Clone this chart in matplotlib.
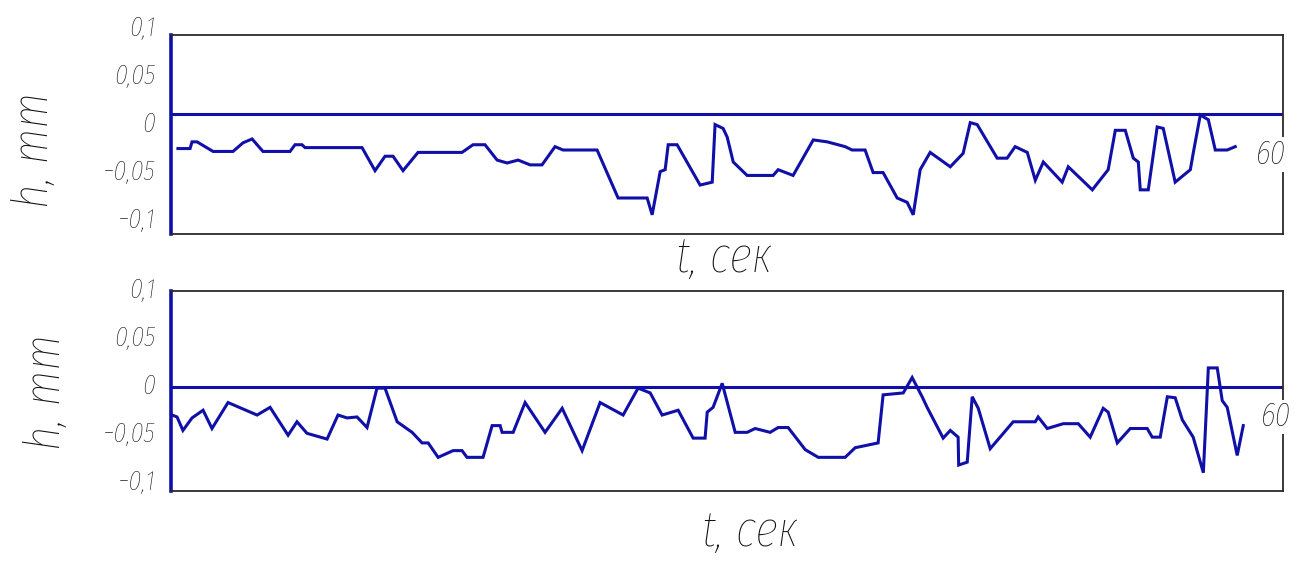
import matplotlib
matplotlib.use("Agg")
import matplotlib.pyplot as plt
import matplotlib.transforms as mtransforms

# ---------------- data (t in s, h in mm) ----------------
t_top = [0.39, 1.07, 1.18, 1.46, 2.36, 3.48, 4.04, 4.55, 5.16, 6.68, 6.96, 7.35, 7.52, 10.72,
         11.45, 12.01, 12.46, 13.02, 13.86, 16.33, 16.95, 17.62, 18.30, 18.86, 19.48, 20.15,
         20.82, 21.55, 22.00, 23.91, 25.09, 26.72, 27.00, 27.45, 27.73, 27.90, 28.40, 29.69,
         30.37, 30.53, 30.98, 31.21, 31.55, 32.33, 33.79, 34.07, 34.35, 34.91, 36.04, 36.82,
         37.83, 38.22, 38.95, 39.40, 39.96, 40.75, 41.31, 41.65, 42.04, 42.60, 43.73, 44.45,
         44.85, 45.24, 46.36, 46.92, 47.37, 48.05, 48.50, 48.95, 50.01, 50.35, 51.70, 52.59,
         52.99, 53.55, 54.00, 54.28, 54.39, 54.84, 55.34, 55.68, 56.35, 57.20, 57.36, 57.76,
         58.21, 58.60, 59.27, 59.72]
h_top = [-0.036, -0.036, -0.029, -0.029, -0.039, -0.039, -0.030, -0.026, -0.039, -0.039, -0.032,
         -0.032, -0.035, -0.035, -0.059, -0.044, -0.044, -0.059, -0.040, -0.040, -0.032, -0.032,
         -0.048, -0.051, -0.048, -0.053, -0.053, -0.034, -0.0375, -0.0375, -0.0875, -0.0875,
         -0.105, -0.060, -0.058, -0.032, -0.032, -0.074, -0.071, -0.011, -0.015, -0.024, -0.050,
         -0.064, -0.064, -0.058, -0.060, -0.064, -0.027, -0.029, -0.034, -0.0375, -0.0375,
         -0.061, -0.061, -0.0875, -0.092, -0.105, -0.058, -0.040, -0.055, -0.041, -0.009,
         -0.011, -0.046, -0.046, -0.034, -0.040, -0.069, -0.050, -0.071, -0.055, -0.079,
         -0.058, -0.017, -0.017, -0.046, -0.050, -0.079, -0.079, -0.0135, -0.015, -0.071,
         -0.058, -0.041, -0.001, -0.006, -0.0375, -0.0375, -0.034]

t_bot = [0.06, 0.34, 0.67, 1.18, 1.80, 2.30, 3.20, 4.83, 5.56, 6.57, 7.07, 7.63, 8.76, 9.37,
         9.88, 10.44, 11.00, 11.56, 12.01, 12.69, 13.53, 14.09, 14.43, 14.99, 15.83, 16.33,
         16.61, 17.51, 18.02, 18.47, 18.58, 19.20, 19.87, 20.99, 21.95, 23.07, 24.08, 25.37,
         26.21, 26.89, 27.56, 28.46, 29.30, 29.97, 30.09, 30.42, 30.93, 31.66, 32.33, 32.78,
         33.62, 34.07, 34.63, 35.59, 36.32, 37.83, 38.39, 39.68, 39.96, 41.09, 41.59, 42.15,
         42.43, 43.33, 43.73, 44.17, 44.20, 44.68, 44.96, 45.30, 45.97, 47.26, 48.50, 48.66,
         49.17, 50.07, 50.91, 51.58, 52.31, 52.59, 53.10, 53.83, 54.78, 55.06, 55.51, 55.91,
         56.35, 56.75, 57.36, 57.93, 58.21, 58.71, 58.99, 59.27, 59.83, 60.17]
h_bot = [-0.029, -0.031, -0.045, -0.032, -0.024, -0.043, -0.016, -0.029, -0.021, -0.050, -0.036,
         -0.048, -0.054, -0.029, -0.032, -0.031, -0.042, -0.001, -0.001, -0.036, -0.047, -0.058,
         -0.058, -0.073, -0.066, -0.066, -0.073, -0.073, -0.040, -0.040, -0.047, -0.047, -0.016,
         -0.047, -0.022, -0.066, -0.016, -0.029, -0.001, -0.006, -0.029, -0.024, -0.053, -0.053,
         -0.026, -0.021, 0.004, -0.047, -0.047, -0.043, -0.047, -0.042, -0.042, -0.065, -0.073,
         -0.073, -0.063, -0.058, -0.008, -0.006, 0.010, -0.010, -0.021, -0.053, -0.045, -0.052,
         -0.081, -0.078, -0.010, -0.022, -0.064, -0.036, -0.036, -0.031, -0.043, -0.038, -0.038,
         -0.052, -0.022, -0.026, -0.058, -0.043, -0.043, -0.052, -0.052, -0.010, -0.011, -0.034,
         -0.052, -0.089, 0.020, 0.020, -0.014, -0.021, -0.071, -0.040]

ytick_values = [0.1, 0.05, 0, -0.05, -0.1]
ytick_labels = ["0,1", "0,05", "0", "\u22120,05", "\u22120,1"]
x_end_label = "60"
xlabel_text = "t, сек"
ylabel_text = "h, mm"

# ---------------- style ----------------
FONT = ["Fira Sans Extra Condensed", "Fira Sans Condensed", "Roboto Condensed",
        "Liberation Sans Narrow", "DejaVu Sans"]
plt.rcParams["font.family"] = FONT
BLUE = "#1010a8"
DARK = "#2a2a2a"
TXT = "#111111"

W, H = 1308, 561
fig = plt.figure(figsize=(W / 100, H / 100), dpi=100)
fig.patch.set_facecolor("white")


def px_axes(l, t, r, b):
    return fig.add_axes([l / W, 1 - b / H, (r - l) / W, (b - t) / H])


panels = [
    dict(box=(171, 35, 1283, 234), ylim=(-0.125, 0.0823), toff=-0.0103,
         t=t_top, h=h_top, end=(61.7, -0.042), xl=(725, 258), yl=(34, 150)),
    dict(box=(171, 291, 1283, 491), ylim=(-0.108, 0.100), toff=0.0008,
         t=t_bot, h=h_bot, end=(62.0, -0.031), xl=(750, 532), yl=(46, 392)),
]

for p in panels:
    ax = px_axes(*p["box"])
    ax.set_xlim(0, 62.4)
    ax.set_ylim(*p["ylim"])
    ax.set_xticks([])
    ax.set_yticks([])
    for side in ("top", "bottom", "right"):
        ax.spines[side].set_color(DARK)
        ax.spines[side].set_linewidth(1.3)
    ax.spines["left"].set_color(BLUE)
    ax.spines["left"].set_linewidth(2.6)

    ax.axhline(0, color=BLUE, lw=2.2, zorder=2)
    ax.plot(p["t"], p["h"], color=BLUE, lw=2.2, solid_joinstyle="miter", zorder=3)

    trans = mtransforms.blended_transform_factory(ax.transAxes, ax.transData)
    for v, lab in zip(ytick_values, ytick_labels):
        ax.text(-0.014, v + p["toff"], lab, transform=trans, ha="right", va="center",
                fontsize=20, style="italic", fontweight="light", color=TXT,
                clip_on=False)

    ax.text(p["end"][0], p["end"][1], x_end_label, ha="center", va="center",
            fontsize=24, style="italic", fontweight="light", color=TXT,
            clip_on=False, zorder=5,
            bbox=dict(facecolor="white", edgecolor="none", pad=1.0))

    fig.text(p["xl"][0] / W, 1 - p["xl"][1] / H, xlabel_text, ha="center", va="center",
             fontsize=37, style="italic", fontweight="light", color=TXT)
    fig.text(p["yl"][0] / W, 1 - p["yl"][1] / H, ylabel_text, ha="center", va="center",
             rotation=90, fontsize=37, style="italic", fontweight="light", color=TXT)

fig.savefig("out.png", dpi=100, facecolor="white")
